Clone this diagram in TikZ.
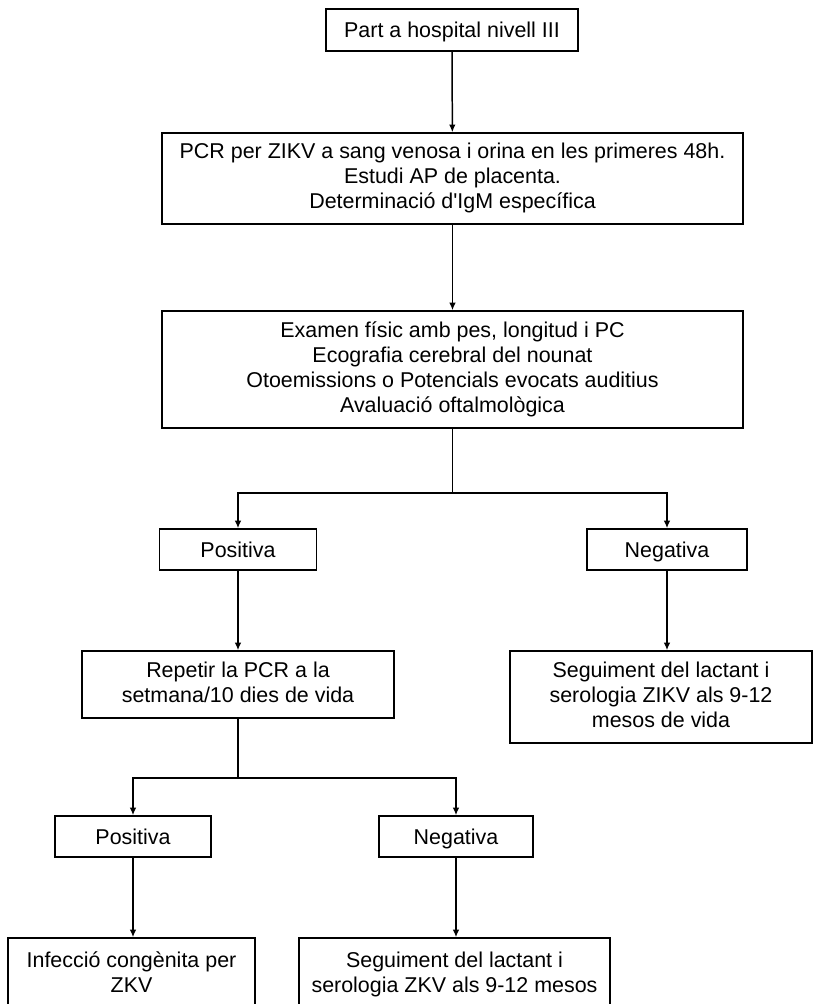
\documentclass[tikz,border=0pt]{standalone}
\usepackage{fontspec}
\setmainfont{Liberation Sans}
\usetikzlibrary{arrows.meta}

\newcommand{\boxstrut}{\vrule height 11.5pt depth 2.8pt width 0pt}

\tikzset{
  box/.style={draw, line width=0.85pt, align=center, inner sep=0pt,
    font=\fontsize{12.2pt}{14.2pt}\selectfont,
    execute at begin node={\boxstrut}, execute at end node={\boxstrut}},
  arr/.style={line width=0.85pt, -{Latex[length=4.4pt,width=3.8pt]}},
  link/.style={line width=0.85pt}
}

\begin{document}
\begin{tikzpicture}[x=0.02cm, y=-0.02cm]
  % Page frame
  \clip (0,0) rectangle (814,1004);
  \fill[white] (0,0) rectangle (814,1004);

  % Top of the chart
  \node[box, minimum width=5.04cm, minimum height=0.84cm] (part) at (452,30)
    {Part a hospital nivell III};
  \node[box, minimum width=11.62cm, minimum height=1.82cm] (pcr) at (452.5,178.5)
    {PCR per ZIKV a sang venosa i orina en les primeres 48h.\\
     Estudi AP de placenta.\\
     Determinació d\textquotesingle IgM específica};
  \node[box, minimum width=11.62cm, minimum height=2.34cm] (exam) at (452.5,369.5)
    {Examen físic amb pes, longitud i PC\\
     Ecografia cerebral del nounat\\
     Otoemissions o Potencials evocats auditius\\
     Avaluació oftalmològica};

  % First result
  \node[box, minimum width=3.14cm, minimum height=0.82cm] (posA) at (238,549.5) {Positiva};
  \node[box, minimum width=3.2cm, minimum height=0.82cm] (negA) at (667,549.5) {Negativa};
  \node[box, minimum width=6.24cm, minimum height=1.34cm] (rep) at (238,684.5)
    {Repetir la PCR a la\\ setmana/10 dies de vida};
  \node[box, minimum width=6.04cm, minimum height=1.84cm] (segA) at (661,697)
    {Seguiment del lactant i\\ serologia ZIKV als 9-12\\ mesos de vida};

  % Second result
  \node[box, minimum width=3.12cm, minimum height=0.82cm] (posB) at (133,836.5) {Positiva};
  \node[box, minimum width=3.08cm, minimum height=0.82cm] (negB) at (456,836.5) {Negativa};
  \node[box, minimum width=4.94cm, minimum height=1.48cm] (infec) at (131.5,975)
    {Infecció congènita per\\ ZKV};
  \node[box, minimum width=6.22cm, minimum height=1.48cm] (segB) at (454.5,975)
    {Seguiment del lactant i\\ serologia ZKV als 9-12 mesos};

  % Connectors
  \coordinate (splitA) at (452.5,493);
  \coordinate (splitB) at (238,778);
  \draw[arr] (part) -- (pcr);
  \draw[arr] (pcr) -- (exam);
  \draw[link] (exam.south) -- (splitA);
  \draw[arr] (splitA) -| (posA.north);
  \draw[arr] (splitA) -| (negA.north);
  \draw[arr] (posA) -- (rep);
  \draw[arr] (negA) -- (negA |- segA.north);
  \draw[link] (rep.south) -- (splitB);
  \draw[arr] (splitB) -| (posB.north);
  \draw[arr] (splitB) -| (negB.north);
  \draw[arr] (posB) -- (posB |- infec.north);
  \draw[arr] (negB) -- (negB |- segB.north);
\end{tikzpicture}
\end{document}
